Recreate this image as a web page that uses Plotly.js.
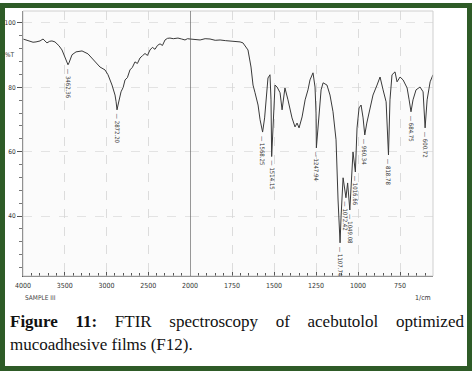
<!DOCTYPE html>
<html>
<head>
<meta charset="utf-8">
<script src="https://cdn.plot.ly/plotly-3.0.1.min.js"></script>
<style>
  html, body { margin: 0; padding: 0; background: #ffffff; }
  #wrap { position: relative; width: 475px; height: 373px; overflow: hidden; background: #fff; }
  #chart { position: absolute; left: 0; top: 0; width: 475px; height: 305px; }
  #frame { position: absolute; left: 0px; top: 3px; width: 462px; height: 358px; border: 5px solid #2e5b27; pointer-events: none; }
  #caption { position: absolute; left: 10px; top: 310px; width: 454px; font-family: "Liberation Serif", "DejaVu Serif", serif; font-size: 17px; line-height: 23px; color: #111; }
  #caption .l1 { white-space: nowrap; display: flex; justify-content: space-between; }
  #caption b { font-weight: bold; }
</style>
</head>
<body>
<div id="wrap">
  <div id="chart"></div>
  <div id="frame"></div>
  <div id="caption">
    <div class="l1"><span><b>Figure</b></span><span><b>11:</b></span><span>FTIR</span><span>spectroscopy</span><span>of</span><span>acebutolol</span><span>optimized</span></div>
    <div>mucoadhesive films (F12).</div>
  </div>
</div>
<script>
// High wavenumber region (4000 - 2000 1/cm)
const wavenumbersHigh = [4000,3950,3916,3880,3844,3796,3760,3735,3713,3680,3653,3617,3569,3533,3497,3475,3461,3449,3437,3413,3365,3293,3222,3138,3078,3018,2982,2934,2898,2885,2874,2862,2850,2826,2800,2778,2750,2719,2690,2659,2630,2599,2570,2539,2510,2479,2450,2419,2390,2359,2330,2299,2270,2240,2200,2144,2100,2060,2030,2000];
const transmittanceHigh = [95.0,94.6,94.4,94.0,94.1,94.4,95.0,94.2,93.8,94.3,94.4,94.1,92.9,91.6,89.1,87.8,87.0,87.6,88.5,90.1,91.0,91.3,90.4,87.9,86.3,85.4,83.9,80.7,77.6,75.5,73.0,74.5,76.1,78.6,80.0,82.3,83.0,85.4,86.2,87.9,87.4,89.1,89.8,90.5,89.9,91.6,92.4,91.8,93.0,93.5,93.0,94.7,95.2,95.3,95.1,95.3,95.0,94.7,95.1,95.0];

// Low wavenumber region (2000 - 554 1/cm)
const wavenumbersLow = [2000,1970,1940,1910,1881,1850,1821,1790,1762,1730,1702,1685,1655,1637,1625,1613,1595,1583,1568,1556,1545,1536,1524,1518,1514,1506,1494,1482,1464,1452,1446,1435,1417,1393,1375,1363,1351,1333,1315,1298,1286,1268,1256,1250,1248,1240,1232,1220,1208,1185,1167,1149,1131,1119,1107,1101,1089,1072,1062,1049,1040,1030,1016,1006,994,982,970,960,948,932,911,887,869,851,833,819,810,798,780,768,750,732,708,696,685,673,655,631,613,601,589,571,554];
const transmittanceLow = [95.0,94.8,94.7,95.1,95.0,94.6,94.7,94.5,94.4,94.3,94.1,93.8,91.6,86.3,80.7,78.3,74.5,69.9,66.1,70.5,77.6,82.9,83.9,76.1,58.5,69.9,80.7,80.1,78.3,73.0,76.1,79.8,76.1,70.5,67.7,68.9,67.4,70.8,76.1,79.2,82.3,84.5,80.1,72.0,61.2,68.0,71.4,79.2,81.4,80.7,77.6,72.4,63.7,45.0,31.7,40.0,51.9,45.7,50.3,41.9,52.8,59.9,53.7,67.4,73.6,74.5,70.5,65.2,68.9,72.4,77.6,80.7,83.2,79.2,75.5,59.0,76.1,83.9,84.8,81.7,83.2,82.3,79.8,76.1,72.4,76.1,79.2,80.1,78.6,67.4,76.1,81.7,83.9];

// Peak labels
const peakWavenumbersHigh = [3462.36, 2872.20];
const peakLabelsHigh = ["3462.36", "2872.20"];
const peakTHigh = [87.0, 73.0];
const peakWavenumbersLow = [1568.25, 1514.15, 1247.94, 1107.74, 1072.42, 1049.08, 1016.66, 960.34, 818.78, 684.75, 600.72];
const peakLabelsLow = ["1568.25", "1514.15", "1247.94", "1107.74", "1072.42", "1049.08", "1016.66", "960.34", "818.78", "684.75", "600.72"];
const peakTLow = [66.1, 58.5, 61.2, 31.7, 45.7, 41.9, 53.7, 65.2, 59.0, 72.4, 67.4];

const xTicksHigh = [4000, 3500, 3000, 2500, 2000];
const xTicksLow = [1750, 1500, 1250, 1000, 750];
const yTicks = [40, 60, 80, 100];

const lineColor = "#3a3a3a";
const narrow = "DejaVu Sans Condensed, Liberation Sans Narrow, Liberation Sans, sans-serif";
const tickFont = { family: narrow, size: 7, color: "#333" };

const traces = [
  { x: wavenumbersHigh, y: transmittanceHigh, xaxis: "x", yaxis: "y", mode: "lines", line: { color: lineColor, width: 1 }, hoverinfo: "skip" },
  { x: wavenumbersLow, y: transmittanceLow, xaxis: "x2", yaxis: "y", mode: "lines", line: { color: lineColor, width: 1 }, hoverinfo: "skip" }
];

const annotations = [];
function addPeaks(xs, labels, ts, xref) {
  for (let i = 0; i < xs.length; i++) {
    annotations.push({
      x: xs[i], y: ts[i] - 0.6, xref: xref, yref: "y",
      text: "\u2014 " + labels[i], textangle: 90, showarrow: false,
      xanchor: "center", yanchor: "top",
      font: { family: narrow, size: 6, color: "#333" }
    });
  }
}
addPeaks(peakWavenumbersHigh, peakLabelsHigh, peakTHigh, "x");
addPeaks(peakWavenumbersLow, peakLabelsLow, peakTLow, "x2");

annotations.push({ x: 0, y: 90, xref: "paper", yref: "y", xanchor: "right", yanchor: "middle", xshift: -6,
  text: "%T", showarrow: false, font: { family: narrow, size: 6.5, color: "#333" } });
annotations.push({ x: 0, y: 0, xref: "paper", yref: "paper", xanchor: "left", yanchor: "top", yshift: -16,
  text: "SAMPLE III", showarrow: false, font: { family: narrow, size: 6.5, color: "#444" } });
annotations.push({ x: 1, y: 0, xref: "paper", yref: "paper", xanchor: "right", yanchor: "top", yshift: -16,
  text: "1/cm", showarrow: false, font: { family: narrow, size: 7, color: "#333" } });

const split = 167 / 410;
const commonX = {
  showline: true, linecolor: "#555", linewidth: 1,
  ticks: "inside", ticklen: 4, tickcolor: "#555", tickwidth: 1,
  showgrid: true, gridcolor: "#c8c8c8", griddash: "dash", gridwidth: 0.6,
  zeroline: false, tickfont: tickFont, ticklabelstandoff: 3,
  tickmode: "array"
};

const layout = {
  width: 475, height: 305,
  margin: { l: 23, r: 42, t: 11, b: 29 },
  paper_bgcolor: "rgba(0,0,0,0)",
  plot_bgcolor: "#fbfbfb",
  showlegend: false,
  xaxis: Object.assign({}, commonX, {
    domain: [0, split], range: [4000, 2000], anchor: "y", tickvals: xTicksHigh,
    minor: { dtick: 100, tick0: 0, ticks: "inside", ticklen: 3, tickcolor: "#555", showgrid: false }
  }),
  xaxis2: Object.assign({}, commonX, {
    domain: [split, 1], range: [2000, 554], anchor: "y", tickvals: xTicksLow,
    minor: { dtick: 50, tick0: 0, ticks: "inside", ticklen: 3, tickcolor: "#555", showgrid: false }
  }),
  yaxis: {
    range: [21.4, 103.7], tickmode: "array", tickvals: yTicks,
    showline: true, linecolor: "#555", linewidth: 1,
    ticks: "outside", ticklen: 5, tickcolor: "#555",
    showgrid: true, gridcolor: "#d4d4d4", griddash: "dash", gridwidth: 0.6,
    zeroline: false, tickfont: { family: narrow, size: 6.5, color: "#333" }, ticklabelstandoff: 0,
    minor: { dtick: 4, tick0: 0, ticks: "outside", ticklen: 3, tickcolor: "#777", showgrid: false }
  },
  shapes: [
    { type: "rect", xref: "paper", yref: "paper", x0: 0, x1: 1, y0: 0, y1: 1, line: { color: "#cfcfcf", width: 1 } },
    { type: "line", xref: "x2", yref: "paper", x0: 2000, x1: 2000, y0: 0, y1: 1, line: { color: "#555", width: 1.2 } }
  ],
  annotations: annotations
};

Plotly.newPlot("chart", traces, layout, { staticPlot: true, displayModeBar: false });
</script>
</body>
</html>
